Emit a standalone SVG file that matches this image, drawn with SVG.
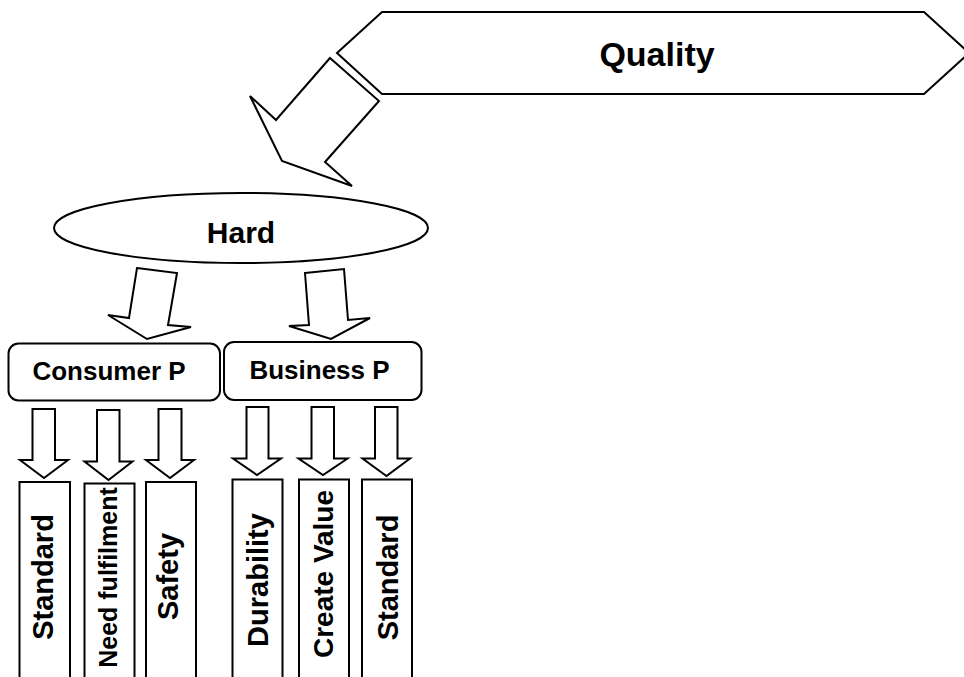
<svg xmlns="http://www.w3.org/2000/svg" width="964" height="677" viewBox="0 0 964 677">
  <style>
    .shape { fill: #ffffff; stroke: #000000; stroke-width: 2; stroke-linejoin: miter; }
    .arrow { fill: #ffffff; stroke: #000000; stroke-width: 2; stroke-linejoin: miter; }
    .label { font-family: "Liberation Sans", Arial, sans-serif; font-weight: bold; fill: #000000; }
  </style>
  <rect x="0" y="0" width="964" height="677" fill="#ffffff"/>

  <!-- Connectors: block arrows -->
  <g id="connectors">
    <polygon class="arrow" points="330,58 379,101 325,162 352,186 282,161 250,96 276,120"/>
    <polygon class="arrow" points="137,268 177,273 168,325 191,327 147,339 108,315 129,318"/>
    <polygon class="arrow" points="305,273 344,269 348,320 370,318 331,339 289,326 309,325"/>
    <polygon class="arrow" points="32.5,409 55,409 55,460 68,460 44,478 20,460 32.5,460"/>
    <polygon class="arrow" points="97,410 119.5,410 119.5,461.5 132.5,461.5 108.5,480 84.5,461.5 97,461.5"/>
    <polygon class="arrow" points="158.5,409 181.5,409 181.5,460 194,460 170,478 146,460 158.5,460"/>
    <polygon class="arrow" points="246.5,407 268.5,407 268.5,458.5 281,458.5 257,475 233,458.5 246.5,458.5"/>
    <polygon class="arrow" points="311.5,407 334,407 334,458.5 347.5,458.5 323,475 298.5,458.5 311.5,458.5"/>
    <polygon class="arrow" points="375,407 397.5,407 397.5,458.5 410,458.5 386.5,476 362.5,458.5 375,458.5"/>
  </g>

  <g id="quality">
    <polygon class="shape" points="337,53 382,12 924,12 969,53 924,94 382,94"/>
    <text class="label" x="657" y="66" font-size="34" text-anchor="middle">Quality</text>
  </g>

  <g id="hard">
    <ellipse class="shape" cx="241" cy="228" rx="187" ry="35"/>
    <text class="label" x="241" y="243" font-size="30" text-anchor="middle">Hard</text>
  </g>

  <g id="consumer-p">
    <rect class="shape" x="8.5" y="343.5" width="211.5" height="57" rx="10" ry="10"/>
    <text class="label" x="109" y="380" font-size="26" text-anchor="middle">Consumer P</text>
  </g>

  <g id="business-p">
    <rect class="shape" x="224" y="342" width="197.5" height="58" rx="10" ry="10"/>
    <text class="label" x="319.5" y="379" font-size="26" text-anchor="middle">Business P</text>
  </g>

  <g id="c-standard">
    <rect class="shape" x="19.5" y="482" width="50.5" height="210"/>
    <text class="label" font-size="29" text-anchor="middle" transform="translate(52.5,577) rotate(-90)">Standard</text>
  </g>

  <g id="c-need-fulfilment">
    <rect class="shape" x="84.5" y="483.5" width="50" height="210"/>
    <text class="label" font-size="25" text-anchor="middle" transform="translate(116.5,577.5) rotate(-90)">Need fulfilment</text>
  </g>

  <g id="c-safety">
    <rect class="shape" x="146" y="482" width="50" height="210"/>
    <text class="label" font-size="29" text-anchor="middle" transform="translate(177.5,576.5) rotate(-90)">Safety</text>
  </g>

  <g id="b-durability">
    <rect class="shape" x="232.5" y="479.5" width="50" height="210"/>
    <text class="label" font-size="29" text-anchor="middle" transform="translate(267.5,580) rotate(-90)">Durability</text>
  </g>

  <g id="b-create-value">
    <rect class="shape" x="299" y="479.5" width="50" height="210"/>
    <text class="label" font-size="28" text-anchor="middle" transform="translate(333,574) rotate(-90)">Create Value</text>
  </g>

  <g id="b-standard">
    <rect class="shape" x="362" y="479.5" width="50" height="210"/>
    <text class="label" font-size="29" text-anchor="middle" transform="translate(398,577.5) rotate(-90)">Standard</text>
  </g>
</svg>
